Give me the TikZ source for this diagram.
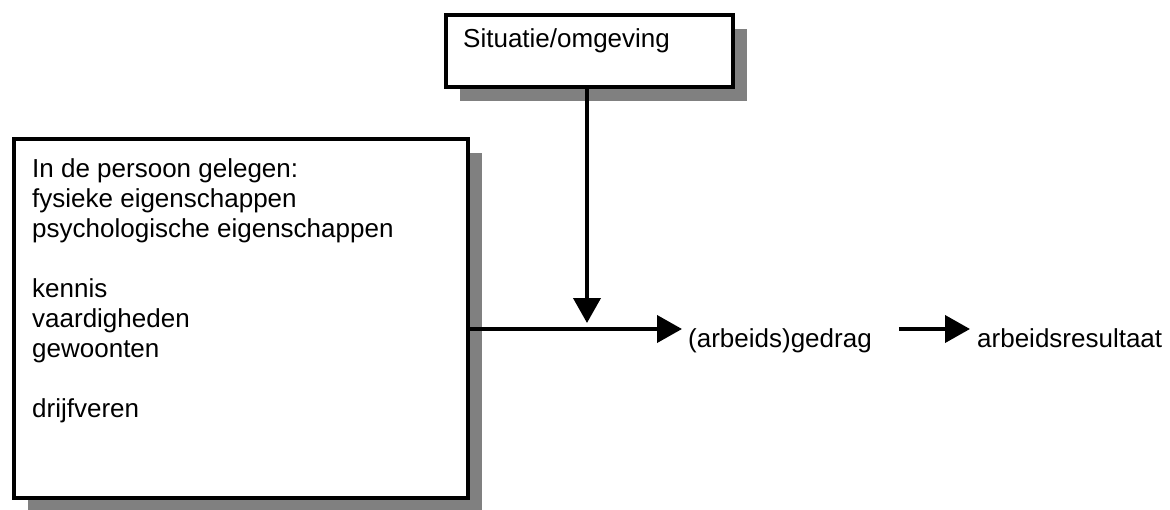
\documentclass[tikz,border=0pt]{standalone}
\usepackage{fontspec}
\setmainfont{Liberation Sans}
\usetikzlibrary{arrows.meta,shadows}

\tikzset{
  box/.style={draw, line width=4pt, fill=white, anchor=north west,
    drop shadow={shadow xshift=14pt, shadow yshift=-14pt, fill=black!50, opacity=1}},
  tekst/.style={inner sep=0pt, font=\fontsize{26}{30}\selectfont},
  pijl/.style={line width=4pt, -{Triangle[length=25pt,width=27pt]}}
}

\begin{document}
\begin{tikzpicture}[x=1pt,y=-1pt]
 \useasboundingbox (0,0) rectangle (1170,509);

 \node[box, minimum width=287pt, minimum height=72pt] (situatie) at (444,13) {}; % bovenste kader
 \node[box, minimum width=454pt, minimum height=359pt] (persoon) at (12,137) {}; % linker kader

 \node[tekst, anchor=base west] (situatietekst) at (463,47) {Situatie/omgeving};
 \node[tekst, anchor=base west, align=left] (persoontekst) at (32,417) % basislijn van de laatste regel
   {In de persoon gelegen:\\fysieke eigenschappen\\psychologische eigenschappen\\[30pt]
    kennis\\vaardigheden\\gewoonten\\[30pt]drijfveren};

 \node[tekst, anchor=base west] (gedrag) at (688,347) {(arbeids)gedrag};
 \node[tekst, anchor=base west] (resultaat) at (977,347) {arbeidsresultaat};

 \coordinate (kruis) at (587,329); % punt waar de pijlen elkaar raken

 \draw [pijl, shorten >=6pt] (situatie.south -| kruis) -- (kruis);
 \draw [pijl, shorten >=6pt] (persoon.east |- kruis) -- (gedrag.west |- kruis);
 \draw [pijl, shorten <=27pt, shorten >=7pt] (gedrag.east |- kruis) -- (resultaat.west |- kruis);
\end{tikzpicture}
\end{document}
